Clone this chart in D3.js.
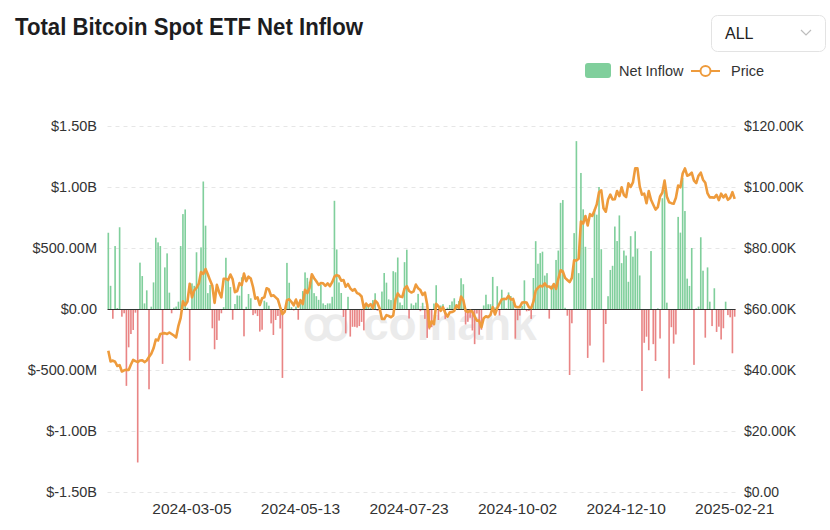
<!DOCTYPE html>
<html>
<head>
<meta charset="utf-8">
<script src="https://cdn.jsdelivr.net/npm/d3@7"></script>
<style>
	body { margin: 0; background: #fff; }
	text { font-family: "Helvetica Neue", "Liberation Sans", Arial, sans-serif; }
</style>
</head>
<body>
<svg id="chart" width="830" height="530"></svg>
<script>
// daily net inflow, $M (one per trading day, 2024-01-11 .. 2025-02-21)
var inflow = [
	625, 190, -80, 516, 8, 670, -63, -35, -630, -314,
	-205, -172, -30, -1258, 380, 270, 46, 153, -658, 19,
	218, 584, 546, 516, -450, 341, 456, 134, -35, 11,
	20, 60, 516, 778, 816, 10, -423, 210, 190, 465,
	205, 505, 1045, 683, 130, 197, -158, -330, -254, -95,
	-35, 15, 420, 250, 180, -88, 41, 111, 109, 260,
	-224, 18, 123, 88, -50, -37, -58, -185, -170, 68,
	55, 27, -118, -213, -90, -57, -160, -565, -20, 378,
	215, 15, -12, 20, -88, 46, 147, 300, 255, 224,
	260, 130, 105, 75, 200, 46, 33, 46, 46, 100,
	887, 488, 218, 131, -65, -200, 100, -226, -146, -146,
	-152, -140, -106, -175, 31, 21, 12, 73, 129, -14,
	-20, 143, 295, 216, 79, 73, 310, 301, 422, 53,
	32, 384, 486, -78, 45, 31, 52, 124, -18, 51,
	-81, -237, -168, -149, 45, 195, -90, 28, 39, -81,
	11, 33, 62, 88, 39, 65, 252, 203, -127, -105,
	-72, -176, -288, -37, -211, -170, 29, 117, 39, 39,
	263, 13, 187, -53, 158, 93, 5, 136, 106, 61,
	-243, -92, -54, 26, 235, -19, -16, -81, 254, 556,
	371, 458, 470, 274, 294, -79, 192, 188, 402, 479,
	870, 893, 10, -55, -541, -117, 622, 1376, 294, 1115,
	817, 510, -401, -300, 255, 816, 773, 1000, 490, -438,
	-123, 105, 320, 354, 676, 557, 767, 376, 479, 438,
	223, 597, 429, 637, 493, 275, -672, -277, -227, -338,
	475, -288, -426, 5, -242, 908, 978, 52, -569, -149,
	-284, -209, 755, 626, 1073, 803, 249, 189, 500, -458,
	5, 20, 588, 314, -235, 341, 60, -140, 170, -188,
	-145, -250, -158, 60, -50, -68, -363, -63
];

// BTC price, $K
var price = [
	46.3, 42.8, 43.1, 42.7, 41.3, 41.6, 39.5, 39.9, 40.1, 40.0,
	41.8, 43.3, 42.9, 42.6, 43.1, 43.2, 42.6, 43.1, 44.3, 45.3,
	47.1, 50.0, 49.7, 51.8, 52.0, 52.1, 51.8, 52.3, 51.8, 51.3,
	50.7, 54.5, 57.1, 62.5, 61.2, 62.4, 68.3, 63.8, 66.1, 66.9,
	68.3, 72.1, 71.5, 73.1, 71.4, 69.4, 67.6, 62.0, 67.9, 65.5,
	63.8, 69.9, 69.9, 69.5, 71.3, 69.7, 65.5, 65.9, 68.5, 67.8,
	71.6, 69.1, 70.6, 70.0, 67.2, 63.4, 63.8, 61.3, 63.5, 63.8,
	66.8, 66.4, 64.3, 64.5, 63.8, 63.1, 60.6, 58.3, 59.1, 62.9,
	63.2, 62.3, 61.2, 63.1, 60.8, 62.9, 61.6, 66.3, 65.2, 67.0,
	71.4, 70.1, 69.1, 67.9, 68.5, 68.4, 67.6, 68.4, 67.5, 68.8,
	70.6, 71.1, 70.8, 69.3, 69.5, 67.3, 68.2, 66.8, 66.0, 66.5,
	65.2, 64.9, 64.1, 60.3, 61.8, 60.9, 61.6, 60.3, 62.7, 62.0,
	60.2, 56.7, 56.7, 58.0, 57.7, 57.3, 57.9, 63.1, 65.1, 64.1,
	63.9, 66.7, 67.5, 65.9, 65.4, 65.8, 68.0, 66.8, 66.2, 64.6,
	65.4, 61.5, 54.0, 56.0, 55.0, 61.7, 60.9, 59.4, 60.6, 58.7,
	57.5, 58.9, 59.0, 59.4, 61.2, 60.4, 64.1, 62.9, 59.4, 59.0,
	59.4, 59.1, 57.5, 56.2, 56.2, 54.0, 57.0, 57.6, 57.3, 58.1,
	60.6, 58.2, 60.3, 61.8, 63.2, 63.3, 63.3, 64.3, 63.1, 63.3,
	60.8, 60.6, 60.7, 62.1, 62.2, 62.1, 60.6, 60.3, 62.4, 66.0,
	67.0, 67.6, 67.4, 68.4, 67.4, 67.4, 66.7, 68.2, 66.6, 69.9,
	72.7, 72.3, 70.2, 69.5, 68.8, 70.2, 76.0, 75.9, 76.5, 88.7,
	88.0, 90.5, 87.4, 91.1, 90.5, 92.3, 94.3, 98.3, 98.9, 93.0,
	91.9, 95.9, 97.5, 95.9, 96.0, 98.7, 97.0, 99.9, 97.4, 96.7,
	101.2, 100.0, 101.5, 106.1, 106.1, 100.2, 97.5, 97.8, 94.7, 98.7,
	95.8, 94.2, 92.6, 93.4, 96.9, 98.1, 102.1, 96.9, 95.0, 94.7,
	94.5, 96.5, 100.5, 99.9, 104.4, 106.1, 103.7, 104.0, 104.7, 102.1,
	101.3, 103.7, 104.7, 102.4, 101.4, 97.9, 96.6, 96.6, 96.5, 97.4,
	95.7, 97.8, 96.6, 97.5, 95.8, 96.4, 98.3, 96.1
];

var leftTicks = [-1500, -1000, -500, 0, 500, 1000, 1500];
var rightTicks = [0, 20, 40, 60, 80, 100, 120];
var xTickLabels = ["2024-03-05", "2024-05-13", "2024-07-23", "2024-10-02", "2024-12-10", "2025-02-21"];

var holidays = ["2024-01-15", "2024-03-29", "2024-05-27", "2024-06-19", "2024-07-04", "2024-09-02",
	"2024-11-28", "2024-12-25", "2025-01-01", "2025-01-09", "2025-01-20", "2025-02-17"];
var noData = ["2024-09-26", "2024-09-27"];

var PLOT = { left: 107.5, right: 735.5, top: 126, bottom: 492 };
var GREEN = "#80cf9c";
var RED = "#e98585";
var ORANGE = "#ee9b3c";

function buildDates() {
	var out = [];
	var d = new Date(Date.UTC(2024, 0, 11));
	var end = new Date(Date.UTC(2025, 1, 21));
	while( d <= end ) {
		var s = d.toISOString().substring(0, 10);
		var wd = d.getUTCDay();
		if( wd != 0 && wd != 6 && holidays.indexOf(s) < 0 && noData.indexOf(s) < 0 ) {
			out.push(s);
		}
		d.setUTCDate(d.getUTCDate() + 1);
	}
	return out;
}

function fmtLeft(v) {
	if( v == 0 ) return "$0.00";
	if( Math.abs(v) >= 1000 ) return "$" + (v / 1000).toFixed(2) + "B";
	return "$" + v.toFixed(2) + "M";
}

function fmtRight(v) {
	if( v == 0 ) return "$0.00";
	return "$" + v.toFixed(2) + "K";
}

function drawChart() {
	var dates = buildDates();
	var rows = dates.map(function(d, i) { return { date: d, inflow: inflow[i], price: price[i] }; });

	var svg = d3.select("#chart");

	var x = d3.scaleBand()
		.domain(dates)
		.range([PLOT.left, PLOT.right])
		.paddingInner(0.28);
	var yL = d3.scaleLinear().domain([-1500, 1500]).range([PLOT.bottom, PLOT.top]);
	var yR = d3.scaleLinear().domain([0, 120]).range([PLOT.bottom, PLOT.top]);
	var cx = function(d) { return x(d) + x.bandwidth() / 2; };

	// title + selector
	svg.append("text")
		.attr("x", 15).attr("y", 35)
		.attr("font-size", 24).attr("font-weight", 600)
		.attr("fill", "#1d1d1f")
		.attr("textLength", 348)
		.attr("lengthAdjust", "spacingAndGlyphs")
		.text("Total Bitcoin Spot ETF Net Inflow");

	svg.append("rect")
		.attr("x", 711.5).attr("y", 15.5).attr("width", 114).attr("height", 36).attr("rx", 6)
		.attr("fill", "#fff").attr("stroke", "#e3e3e3");
	svg.append("text")
		.attr("x", 725).attr("y", 39)
		.attr("font-size", 16).attr("fill", "#222")
		.text("ALL");
	svg.append("polyline")
		.attr("points", "801,30 806,35 811,30")
		.attr("fill", "none").attr("stroke", "#bdbdbd").attr("stroke-width", 1.2);

	// legend
	var lg = svg.append("g").attr("font-size", 14.5).attr("fill", "#333");
	lg.append("rect").attr("x", 585).attr("y", 63).attr("width", 26).attr("height", 15).attr("rx", 3).attr("fill", GREEN);
	lg.append("text").attr("x", 619).attr("y", 76).text("Net Inflow");
	lg.append("line").attr("x1", 691).attr("x2", 720).attr("y1", 71).attr("y2", 71)
		.attr("stroke", ORANGE).attr("stroke-width", 2);
	lg.append("circle").attr("cx", 705.5).attr("cy", 71).attr("r", 5)
		.attr("fill", "#fff").attr("stroke", ORANGE).attr("stroke-width", 2);
	lg.append("text").attr("x", 731).attr("y", 76).text("Price");

	// grid
	svg.append("g")
		.selectAll("line")
		.data(leftTicks.filter(function(t) { return t != 0; }))
		.enter().append("line")
			.attr("x1", PLOT.left).attr("x2", PLOT.right)
			.attr("y1", function(d) { return Math.round(yL(d)) + 0.5; })
			.attr("y2", function(d) { return Math.round(yL(d)) + 0.5; })
			.attr("stroke", "#e6e6e6")
			.attr("stroke-dasharray", "4,4");

	// watermark
	svg.append("text")
		.attr("x", 420).attr("y", 340)
		.attr("text-anchor", "middle")
		.attr("font-size", 46).attr("font-weight", 700)
		.attr("fill", "#d8d8d8").attr("opacity", 0.5)
		.text("ꝏ coinank");

	// axis labels
	svg.append("g")
		.selectAll("text")
		.data(leftTicks)
		.enter().append("text")
			.attr("x", 97).attr("y", function(d) { return yL(d) + 5; })
			.attr("text-anchor", "end")
			.attr("font-size", 14.5).attr("fill", "#333")
			.text(fmtLeft);
	svg.append("g")
		.selectAll("text")
		.data(rightTicks)
		.enter().append("text")
			.attr("x", 744).attr("y", function(d) { return yR(d) + 5; })
			.attr("font-size", 14).attr("fill", "#333")
			.text(fmtRight);
	svg.append("g")
		.selectAll("text")
		.data(xTickLabels)
		.enter().append("text")
			.attr("x", function(d) { return cx(d); })
			.attr("y", 514)
			.attr("text-anchor", "middle")
			.attr("font-size", 15.5).attr("fill", "#333")
			.text(function(d) { return d; });

	// bars
	svg.append("g")
		.selectAll("rect")
		.data(rows)
		.enter().append("rect")
			.attr("x", function(d) { return x(d.date); })
			.attr("width", x.bandwidth())
			.attr("y", function(d) { return Math.min(yL(d.inflow), yL(0)); })
			.attr("height", function(d) { return Math.abs(yL(d.inflow) - yL(0)); })
			.attr("fill", function(d) { return d.inflow >= 0 ? GREEN : RED; });

	// zero line
	svg.append("line")
		.attr("x1", PLOT.left).attr("x2", PLOT.right)
		.attr("y1", yL(0) + 0.5).attr("y2", yL(0) + 0.5)
		.attr("stroke", "#333").attr("stroke-width", 1);

	// price
	var line = d3.line()
		.x(function(d) { return cx(d.date); })
		.y(function(d) { return yR(d.price); });
	svg.append("path")
		.datum(rows)
		.attr("d", line)
		.attr("fill", "none")
		.attr("stroke", ORANGE)
		.attr("stroke-width", 2.6)
		.attr("stroke-linejoin", "round");
}

drawChart();
</script>
</body>
</html>
